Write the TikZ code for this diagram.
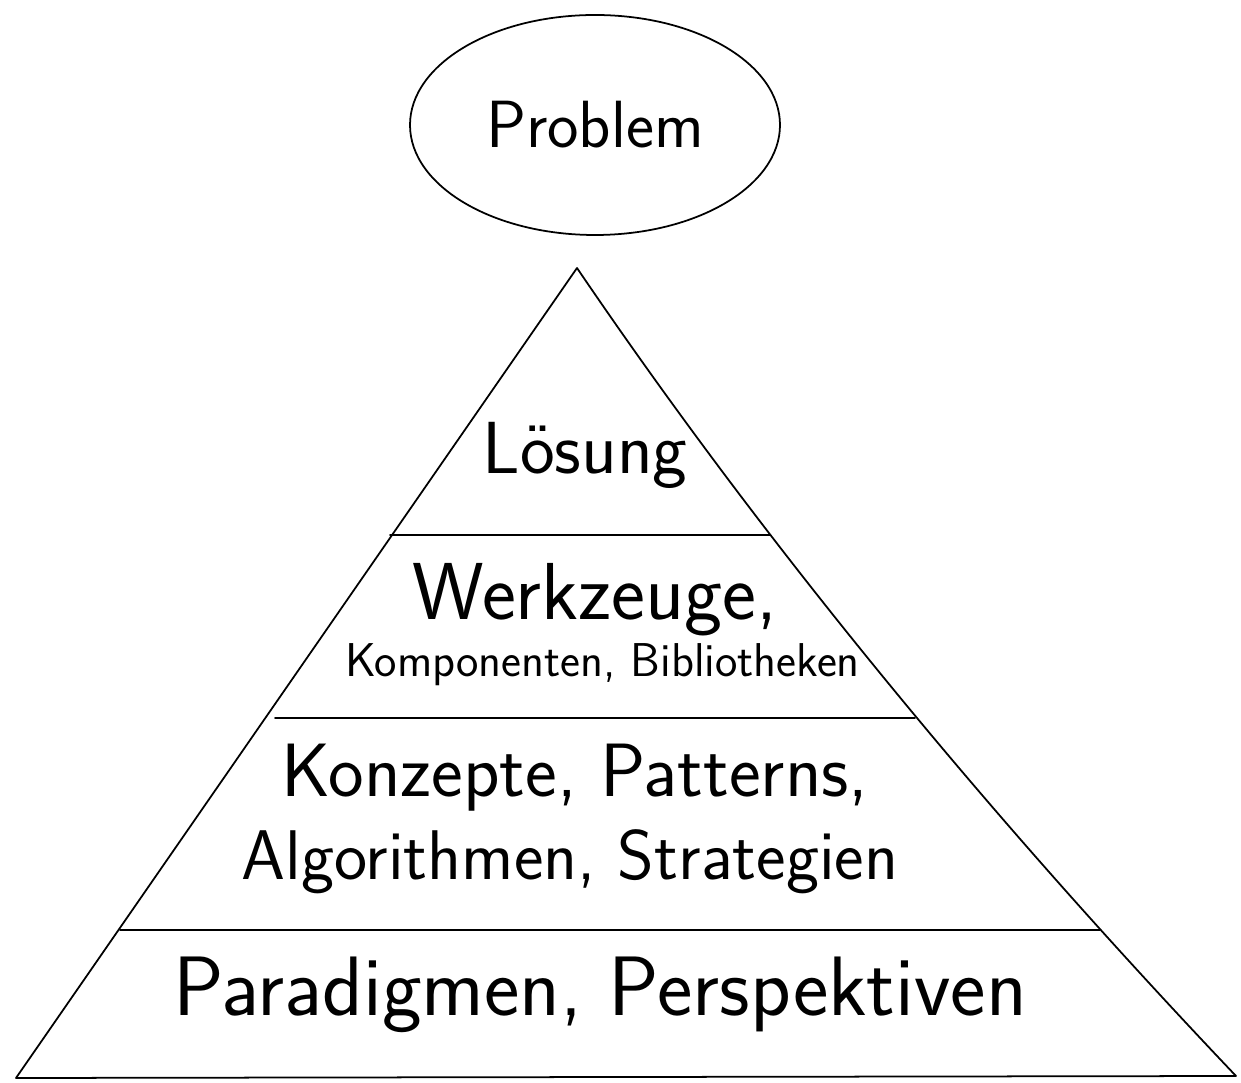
\documentclass[tikz,border=0pt]{standalone}
\usepackage{fontspec}
\usetikzlibrary{shapes.geometric,calc}
\begin{document}
\begin{tikzpicture}[line join=round, line cap=round, line width=1pt]
% Rahmen des Bildes
\useasboundingbox (0,0) rectangle (24.82,21.64);
% Ecken der Pyramide
\coordinate (spitze) at (11.54,16.28);
\coordinate (links) at (0.32,0.08);
\coordinate (rechts) at (24.72,0.12);
% Ellipse oben
\node[draw, ellipse, minimum width=7.4cm, minimum height=4.4cm, font=\sffamily\fontsize{38}{42}\selectfont] (problem) at (11.9,19.14) {Problem};
% Pyramide (rechte Seite leicht gebogen)
\draw (rechts) -- (links) -- (spitze) .. controls (15.2,10.89) and (19.6,5.51) .. (rechts);
% Trennlinien der Stufen
\draw (7.8,10.94) -- (15.4,10.94);
\draw (5.5,7.28) -- (18.3,7.28);
\draw (2.4,3.04) -- (22.0,3.04);
% Beschriftungen
\node[font=\sffamily\fontsize{42}{46}\selectfont] (loesung) at (11.7,12.54) {Lösung};
\node[font=\sffamily\fontsize{46}{50}\selectfont] (werkzeuge) at (11.9,9.64) {Werkzeuge,};
\node[font=\sffamily\fontsize{27}{30}\selectfont] (komponenten) at (12.05,8.34) {Komponenten, Bibliotheken};
\node[font=\sffamily\fontsize{43}{46}\selectfont] (konzepte) at (11.5,6.08) {Konzepte, Patterns,};
\node[font=\sffamily\fontsize{40}{44}\selectfont] (algorithmen) at (11.4,4.4) {Algorithmen, Strategien};
\node[font=\sffamily\fontsize{48}{52}\selectfont] (paradigmen) at (12.0,1.74) {Paradigmen, Perspektiven};
\end{tikzpicture}
\end{document}
